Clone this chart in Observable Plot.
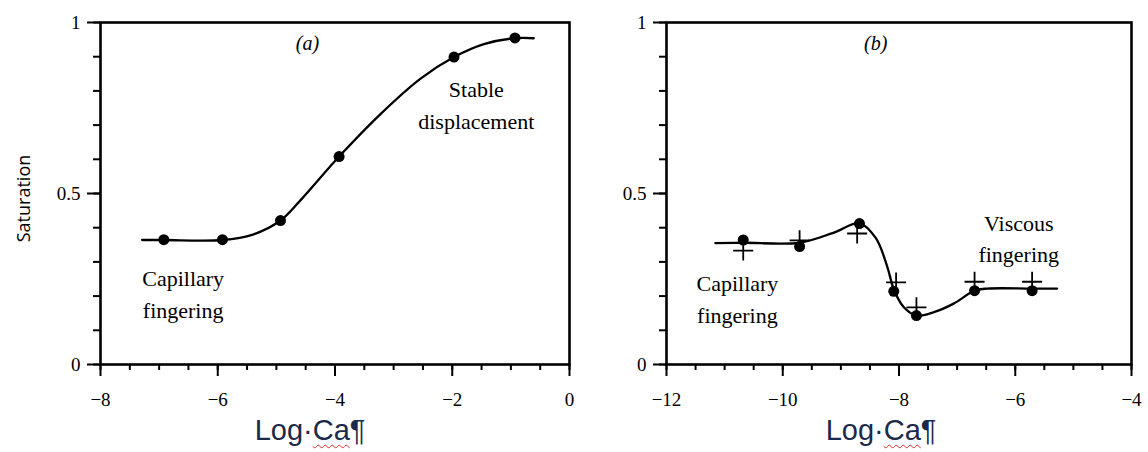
<!DOCTYPE html>
<html>
<head>
<meta charset="utf-8">
<script src="https://cdn.jsdelivr.net/npm/d3@7"></script>
<script src="https://cdn.jsdelivr.net/npm/@observablehq/plot@0.6"></script>
<style>
  html, body { margin: 0; padding: 0; background: #fff; }
  #wrap { position: relative; width: 1148px; height: 452px; overflow: hidden; }
  .panel { position: absolute; top: 0; }
  .xlab { position: absolute; top: 416px; width: 200px; text-align: center;
          font-family: "Liberation Sans", Arial, sans-serif; font-size: 29px; line-height: 29px;
          color: #1b2a48; white-space: nowrap; }
  .wavy { text-decoration: underline wavy #e03030; text-decoration-thickness: 1px; text-underline-offset: 4px; }
</style>
</head>
<body>
<div id="wrap">
  <div id="pa" class="panel" style="left:0px"></div>
  <div id="pb" class="panel" style="left:580px"></div>
  <div class="xlab" style="left:210px">Log·<span class="wavy">Ca</span>¶</div>
  <div class="xlab" style="left:781px">Log·<span class="wavy">Ca</span>¶</div>
</div>
<script>
// ---------- Panel (a) data ----------
const aDotX = [-6.92, -5.92, -4.93, -3.93, -1.97, -0.93];
const aDotY = [0.365, 0.365, 0.421, 0.608, 0.899, 0.955];
const aCurveX = [-7.29, -6.92, -5.92, -5.40, -4.93, -4.59, -3.93, -3.22, -2.54, -1.97, -1.46, -0.93, -0.61];
const aCurveY = [0.364, 0.364, 0.364, 0.380, 0.421, 0.480, 0.608, 0.733, 0.836, 0.899, 0.937, 0.954, 0.954];
const aXTicks = [-8, -6, -4, -2, 0];
const aLabels = ["(a)", "Stable\ndisplacement", "Capillary\nfingering"];
const aLabelX = [-4.47, -1.59, -6.59];
const aLabelY = [0.939, 0.765, 0.213];

// ---------- Panel (b) data ----------
const bDotX = [-10.68, -9.71, -8.68, -8.09, -7.70, -6.70, -5.71];
const bDotY = [0.364, 0.345, 0.412, 0.214, 0.143, 0.216, 0.216];
const bPlusX = [-10.68, -9.71, -8.72, -8.05, -7.70, -6.70, -5.71];
const bPlusY = [0.333, 0.363, 0.383, 0.240, 0.167, 0.242, 0.242];
const bCurveX = [-11.16, -10.68, -9.71, -9.13, -8.68, -8.40, -8.20, -8.09, -7.92, -7.70, -7.40, -7.06, -6.70, -6.48, -5.71, -5.28];
const bCurveY = [0.355, 0.356, 0.356, 0.385, 0.413, 0.370, 0.285, 0.220, 0.168, 0.143, 0.153, 0.178, 0.216, 0.222, 0.222, 0.222];
const bXTicks = [-12, -10, -8, -6, -4];
const bLabels = ["(b)", "Capillary\nfingering", "Viscous\nfingering"];
const bLabelX = [-8.40, -10.78, -5.94];
const bLabelY = [0.939, 0.199, 0.375];

// ---------- shared ----------
const yTicks = [0, 0.5, 1];
const yLabel = "Saturation";

const pts = (xs, ys) => xs.map((x, i) => ({x, y: ys[i]}));
const fmt = d => d < 0 ? "\u2212" + Math.abs(d) : String(d);
const serif = "'Liberation Serif', 'Times New Roman', serif";

function panel({domainX, xTicks, dotX, dotY, plusX, plusY, curveX, curveY, labels, labelX, labelY, width, marginLeft, marginRight, yTitle}) {
  const minorX = d3.range(domainX[0], domainX[1] + 0.001, 0.5);
  const minorY = d3.range(0, 1.001, 0.1);
  const labelData = labels.map((t, i) => ({t, x: labelX[i], y: labelY[i]}));
  const marks = [
    Plot.axisY(minorY, {anchor: "left", label: null, tickSize: 7, stroke: "#000", strokeWidth: 2, tickFormat: () => ""}),
    Plot.axisY(yTicks, {anchor: "left", label: null, tickSize: 13, tickPadding: 7, stroke: "#000", strokeWidth: 2, tickFormat: d => String(d), fontSize: 19}),
    Plot.axisX(minorX, {anchor: "bottom", label: null, tickSize: 6, stroke: "#000", strokeWidth: 2, tickFormat: () => ""}),
    Plot.axisX(xTicks, {anchor: "bottom", label: null, tickSize: 12, tickPadding: 16, stroke: "#000", strokeWidth: 2, tickFormat: fmt, fontSize: 19}),
    Plot.frame({stroke: "#000", strokeWidth: 2.6}),
    Plot.line(pts(curveX, curveY), {x: "x", y: "y", curve: "catmull-rom", stroke: "#000", strokeWidth: 2.3}),
    Plot.dot(pts(dotX, dotY), {x: "x", y: "y", r: 5.5, fill: "#000", stroke: "none"}),
    Plot.text(labelData.filter(d => d.t.startsWith("(")), {x: "x", y: "y", text: "t", fontSize: 20, fontStyle: "italic", fill: "#000"}),
    Plot.text(labelData.filter(d => !d.t.startsWith("(")), {x: "x", y: "y", text: "t", fontSize: 22, lineHeight: 1.45, fill: "#000"})
  ];
  if (plusX) marks.push(Plot.dot(pts(plusX, plusY), {x: "x", y: "y", symbol: "plus", r: 6.5, stroke: "#000", strokeWidth: 1.8}));
  if (yTitle) marks.push(Plot.text([yTitle], {frameAnchor: "left", textAnchor: "middle", lineAnchor: "middle", text: d => d, rotate: -90, dx: -76, dy: 5, fontSize: 18, fontFamily: "'Open Sans', 'Noto Sans', sans-serif", fill: "#000"}));
  return Plot.plot({
    width, height: 410,
    marginLeft, marginRight, marginTop: 22, marginBottom: 46,
    x: {domain: domainX, label: null},
    y: {domain: [0, 1], label: null},
    style: {fontFamily: serif, fontSize: "19px", color: "#000", background: "transparent", overflow: "visible"},
    marks
  });
}

document.getElementById("pa").append(panel({
  domainX: [-8, 0], xTicks: aXTicks, dotX: aDotX, dotY: aDotY,
  curveX: aCurveX, curveY: aCurveY, labels: aLabels, labelX: aLabelX, labelY: aLabelY,
  width: 580, marginLeft: 100, marginRight: 11, yTitle: yLabel
}));
document.getElementById("pb").append(panel({
  domainX: [-12, -4], xTicks: bXTicks, dotX: bDotX, dotY: bDotY, plusX: bPlusX, plusY: bPlusY,
  curveX: bCurveX, curveY: bCurveY, labels: bLabels, labelX: bLabelX, labelY: bLabelY,
  width: 568, marginLeft: 86, marginRight: 17
}));
</script>
</body>
</html>
